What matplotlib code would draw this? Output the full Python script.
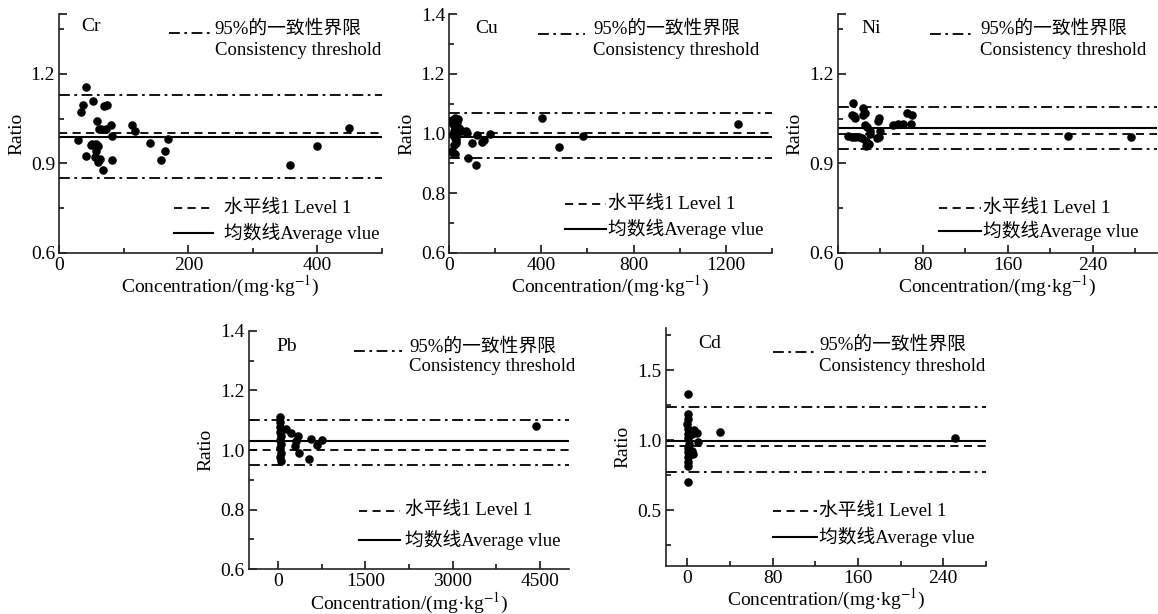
import matplotlib
matplotlib.use('Agg')
import matplotlib.pyplot as plt
from matplotlib.lines import Line2D

plt.rcParams['font.family'] = ['Liberation Serif', 'Noto Sans CJK SC']
plt.rcParams['mathtext.fontset'] = 'stix'
plt.rcParams['font.size'] = 13.5
plt.rcParams['axes.unicode_minus'] = False

# ---- data ----
cr_x = [29, 34, 36, 42, 41, 52, 49, 51, 59, 57, 60, 57, 55, 63, 60, 61, 65, 73, 80, 67,
        70, 74, 82, 82, 113, 117, 141, 157, 164, 168, 357, 400, 449]
cr_y = [0.979, 1.072, 1.095, 1.155, 0.926, 1.110, 0.962, 0.966, 1.041, 0.966, 0.959, 0.943,
        0.920, 0.914, 0.904, 1.015, 1.015, 1.015, 1.029, 0.877, 1.093, 1.096, 0.993, 0.912,
        1.027, 1.007, 0.968, 0.912, 0.943, 0.983, 0.896, 0.957, 1.017]
cr_lines = [1.13, 0.851, 1.003, 0.990]   # upper, lower, level 1, average

cu_x = [10, 18, 25, 25, 29, 36, 25, 35, 25, 29, 18, 39, 54, 73, 79, 98, 120, 142, 149, 175,
        83, 115, 404, 477, 582, 1255, 12, 20, 30, 22, 40, 15, 33, 28]
cu_y = [0.941, 0.936, 0.930, 1.053, 1.036, 1.048, 1.020, 1.003, 0.986, 0.969, 1.031, 1.008,
        1.008, 1.008, 1.003, 0.969, 0.994, 0.971, 0.978, 0.999, 0.917, 0.894, 1.053, 0.955,
        0.992, 1.033, 1.045, 1.010, 0.975, 0.960, 1.020, 0.995, 1.040, 0.985]
cu_lines = [1.070, 0.919, 1.003, 0.990]

ni_x = [14, 13, 15, 16, 24, 26, 24, 39, 38, 26, 28, 30, 30, 40, 10, 13, 16, 20, 23, 27,
        29, 27, 37, 39, 52, 57, 61, 65, 70, 69, 217, 276]
ni_y = [1.102, 1.063, 1.059, 1.052, 1.085, 1.068, 1.063, 1.052, 1.041, 1.029, 1.022, 1.007,
        0.999, 1.007, 0.993, 0.990, 0.990, 0.987, 0.985, 0.974, 0.966, 0.959, 0.985, 0.990,
        1.029, 1.033, 1.032, 1.068, 1.063, 1.033, 0.993, 0.990]
ni_lines = [1.088, 0.949, 0.999, 1.019]

pb_x = [28, 40, 40, 28, 57, 28, 57, 28, 45, 28, 45, 141, 215, 340, 311, 283, 357, 566,
        668, 747, 538, 4426]
pb_y = [1.110, 1.095, 1.078, 1.061, 1.047, 1.034, 1.020, 1.006, 0.991, 0.978, 0.964, 1.069,
        1.056, 1.047, 1.031, 1.015, 0.989, 1.036, 1.017, 1.034, 0.969, 1.080]
pb_lines = [1.100, 0.950, 1.000, 1.031]

cd_x = [0.3, 0.3, 0.5, 0.0, 0.4, 0.6, 0.3, 1.2, 0.6, 0.3, 0.6, 0.3, 0.3, 0.3, 4.7, 6.2,
        8.7, 9.9, 4.7, 5.6, 30.4, 251]
cd_y = [1.327, 1.190, 1.154, 1.118, 1.083, 1.047, 1.012, 0.976, 0.941, 0.917, 0.882, 0.846,
        0.815, 0.704, 1.043, 1.071, 1.052, 0.988, 0.924, 0.900, 1.059, 1.017]
cd_lines = [1.237, 0.775, 0.955, 0.997]

DASHDOT = (0, (6, 2.5, 1.5, 2.5))
DASHED = (0, (4.5, 3))

fig = plt.figure(figsize=(11.58, 6.14), dpi=100)


def draw_panel(rect, name, xs, ys, lines, xlim, ylim, xmaj, xmin, ymaj, ymin, ylabels,
               name_xy, top, bot):
    ax = fig.add_axes(rect)
    ax.set_xlim(*xlim)
    ax.set_ylim(*ylim)
    for s in ['top', 'right']:
        ax.spines[s].set_visible(False)
    for s in ['left', 'bottom']:
        ax.spines[s].set_linewidth(1.2)
        ax.spines[s].set_color('#222222')

    up, lo, lev, avg = lines
    ax.axhline(up, color='black', lw=1.3, ls=DASHDOT)
    ax.axhline(lo, color='black', lw=1.3, ls=DASHDOT)
    ax.axhline(lev, color='black', lw=1.3, ls=DASHED)
    ax.axhline(avg, color='black', lw=1.5, ls='-')
    ax.scatter(xs, ys, s=38, color='black', zorder=3, linewidths=0)

    ax.set_xticks(xmaj)
    ax.set_xticks(xmin, minor=True)
    ax.set_yticks(ymaj)
    ax.set_yticklabels(ylabels)
    ax.set_yticks(ymin, minor=True)
    ax.tick_params(which='both', direction='in', width=1.1, labelsize=14, pad=3)
    ax.tick_params(which='major', length=5.5)
    ax.tick_params(which='minor', length=3.5)

    ax.set_xlabel(r'Concentration/(mg·kg$^{-1}$)', fontsize=14, labelpad=0)
    ax.set_ylabel('Ratio', fontsize=14, labelpad=4)

    ax.text(name_xy[0], name_xy[1], name, transform=ax.transAxes, ha='left', va='center',
            fontsize=14)

    # legend, top: consistency threshold
    x0, x1, yl, xt, yt1, yt2 = top
    ax.add_line(Line2D([x0, x1], [yl, yl], transform=ax.transAxes, color='black', lw=1.3,
                       ls=DASHDOT, clip_on=False))
    ax.text(xt, yt1, '95%的一致性界限', transform=ax.transAxes, ha='left', va='center')
    ax.text(xt, yt2, 'Consistency threshold', transform=ax.transAxes, ha='left', va='center')

    # legend, bottom: level 1 and average
    x0, x1, yd, ys_, xt = bot
    ax.add_line(Line2D([x0, x1], [yd, yd], transform=ax.transAxes, color='black', lw=1.3,
                       ls=DASHED, clip_on=False))
    ax.add_line(Line2D([x0, x1], [ys_, ys_], transform=ax.transAxes, color='black', lw=1.5,
                       ls='-', clip_on=False))
    ax.text(xt, yd, '水平线1 Level 1', transform=ax.transAxes, ha='left', va='center')
    ax.text(xt, ys_, '均数线Average vlue', transform=ax.transAxes, ha='left', va='center')
    return ax


draw_panel([0.0512, 0.588, 0.2787, 0.389], 'Cr', cr_x, cr_y, cr_lines,
           (0, 500), (0.6, 1.4), [0, 200, 400], [100, 300, 500],
           [0.6, 0.9, 1.2, 1.4], [0.75, 1.05, 1.35], ['0.6', '0.9', '1.2', ''],
           (0.069, 0.947),
           (0.340, 0.476, 0.921, 0.482, 0.937, 0.849),
           (0.355, 0.476, 0.188, 0.084, 0.510))

draw_panel([0.388, 0.588, 0.2784, 0.389], 'Cu', cu_x, cu_y, cu_lines,
           (0, 1400), (0.6, 1.4), [0, 400, 800, 1200], [200, 600, 1000, 1400],
           [0.6, 0.8, 1.0, 1.2, 1.4], [0.7, 0.9, 1.1, 1.3],
           ['0.6', '0.8', '1.0', '1.2', '1.4'],
           (0.08, 0.94),
           (0.275, 0.421, 0.915, 0.447, 0.936, 0.849),
           (0.359, 0.485, 0.205, 0.099, 0.493))

draw_panel([0.7234, 0.588, 0.2755, 0.389], 'Ni', ni_x, ni_y, ni_lines,
           (0, 300), (0.6, 1.4), [0, 80, 160, 240], [40, 120, 200, 280],
           [0.6, 0.9, 1.2, 1.4], [0.75, 1.05, 1.35], ['0.6', '0.9', '1.2', ''],
           (0.075, 0.94),
           (0.290, 0.431, 0.915, 0.446, 0.936, 0.849),
           (0.316, 0.448, 0.188, 0.093, 0.456))

draw_panel([0.215, 0.0728, 0.2766, 0.3886], 'Pb', pb_x, pb_y, pb_lines,
           (-500, 5000), (0.6, 1.4), [0, 1500, 3000, 4500], [750, 2250, 3750],
           [0.6, 0.8, 1.0, 1.2, 1.4], [0.7, 0.9, 1.1, 1.3],
           ['0.6', '0.8', '1.0', '1.2', '1.4'],
           (0.086, 0.933),
           (0.328, 0.477, 0.916, 0.500, 0.933, 0.849),
           (0.344, 0.471, 0.246, 0.123, 0.487))

draw_panel([0.5751, 0.0782, 0.2763, 0.3871], 'Cd', cd_x, cd_y, cd_lines,
           (-20, 280), (0.1, 1.8), [0, 80, 160, 240], [40, 120, 200, 280],
           [0.5, 1.0, 1.5], [0.25, 0.75, 1.25, 1.75], ['0.5', '1.0', '1.5'],
           (0.10, 0.937),
           (0.335, 0.476, 0.902, 0.479, 0.930, 0.838),
           (0.335, 0.471, 0.230, 0.124, 0.479))

fig.savefig('out.png', dpi=100, facecolor='white')
